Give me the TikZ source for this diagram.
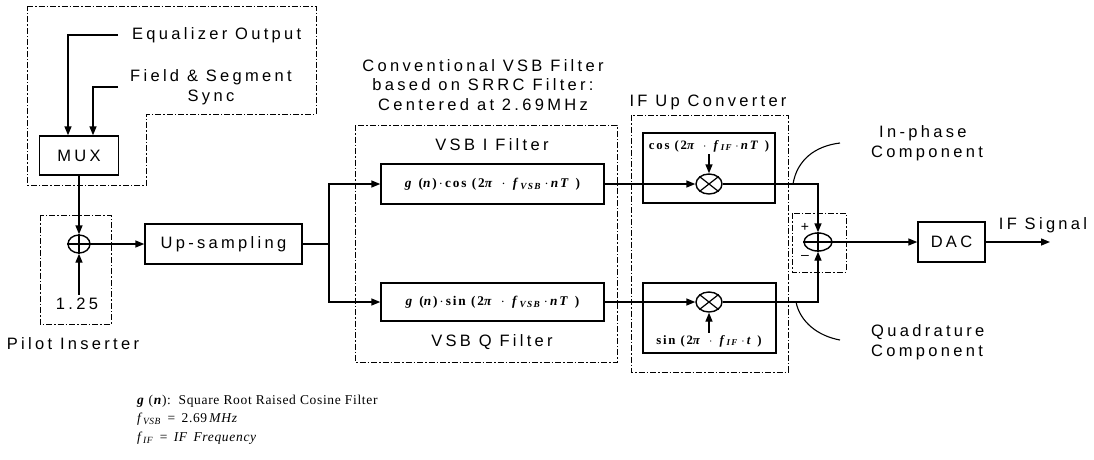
\documentclass[tikz,border=0pt]{standalone}
\usepackage{fontspec}
\setmainfont{Liberation Sans}[LetterSpace=20]
\newfontfamily\serf{Liberation Serif}[LetterSpace=5]
\newfontfamily\serfw{Liberation Serif}[LetterSpace=14]
\usetikzlibrary{arrows.meta,shapes.geometric}
\tikzset{
  blk/.style={draw,line width=1.4pt,inner sep=0pt},
  grp/.style={draw,line width=0.9pt,dash pattern=on 6pt off 2pt on 1.5pt off 2pt},
  ln/.style={line width=1.4pt},
  arr/.style={line width=1.4pt,-{Triangle[length=9pt,width=7pt]}},
  sum/.style={draw,ellipse,line width=1.4pt,inner sep=0pt},
  lab/.style={inner sep=0pt,font=\fontsize{16.5}{19.5}\selectfont},
  fml/.style={inner sep=0pt,font=\serfw\bfseries\fontsize{13.3}{15}\selectfont},
  fmls/.style={inner sep=0pt,font=\serfw\bfseries\fontsize{12.8}{14}\selectfont},
  leg/.style={inner sep=0pt,anchor=west,font=\serf\fontsize{13.5}{16}\selectfont}
}
\newcommand{\mi}[1]{\textit{#1}}
\begin{document}
\begin{tikzpicture}[x=1pt,y=-1pt]
\useasboundingbox (0,0) rectangle (1094,459);
\fill[white] (0,0) rectangle (1094,459);

% ---- MUX group
\draw[grp] (27,6) -- (316,6) -- (316,114) -- (146,114) -- (146,185) -- (27,185) -- cycle;
\node[lab,anchor=west] (eq) at (132,35) {Equalizer Output};
\node[lab,anchor=west,align=center] (fs) at (130,87) {Field \& Segment\\Sync};
\node[blk,lab,minimum width=79pt,minimum height=39pt] (mux) at (79,155.5) {MUX};
\draw[arr] ([xshift=-14pt]eq.west) -| ([xshift=-11pt]mux.north);
\draw[arr] ([xshift=-12pt]fs.west) -| ([xshift=14pt]mux.north);

% ---- Pilot inserter
\draw[grp] (40,215) rectangle (111,324);
\node[sum,minimum width=22pt,minimum height=18pt] (s1) at (79,244) {};
\draw[ln] (s1.north) -- (s1.south) (s1.west) -- (s1.east);
\node[lab] (n125) at (77,304) {1.25};
\node[lab] (pil) at (73,344) {Pilot Inserter};
\draw[arr] (mux.south) -- (s1.north);
\draw[arr] ([xshift=2pt,yshift=3pt]n125.north) -- (s1.south);

% ---- Up-sampling
\node[blk,lab,minimum width=157pt,minimum height=40pt] (up) at (223.5,244) {Up-sampling};
\draw[arr] (s1.east) -- (up.west);
\coordinate (sp) at (329,244);
\draw[ln] (up.east) -- (sp);

% ---- VSB filters
\draw[grp] (355,125) rectangle (617,362);
\node[lab,align=center] (vtitle) at (483,85) {Conventional VSB Filter\\based on SRRC Filter:\\Centered at 2.69MHz};
\node[lab] (vil) at (492,145) {VSB I Filter};
\node[lab] (vql) at (492,342) {VSB Q Filter};
\node[blk,fml,minimum width=223pt,minimum height=40pt] (vi) at (492.5,184)
  {\mi{g} (\mi{n})\,$\cdot$\,cos (2\textit{π}\, $\cdot$ \,\mi{f}\textsubscript{\mi{VSB}}\,$\cdot$\,\mi{nT} )};
\node[blk,fml,minimum width=223pt,minimum height=38pt] (vq) at (492.5,302)
  {\mi{g} (\mi{n})\,$\cdot$\,sin (2\textit{π}\, $\cdot$ \,\mi{f}\textsubscript{\mi{VSB}}\,$\cdot$\,\mi{nT} )};
\draw[arr] (sp) |- (vi.west);
\draw[arr] (sp) |- (vq.west);

% ---- IF up converter
\draw[grp] (631,115) rectangle (788,372);
\node[lab] (ift) at (708,102) {IF Up Converter};
\draw[blk] (643,133) rectangle (775,203);
\draw[blk] (643,283) rectangle (776,353);
\node[fmls] (cosT) at (709,146)
  {cos (2\textit{π}\, $\cdot$ \,\mi{f}\textsubscript{\mi{IF}}\,$\cdot$\,\mi{nT} )};
\node[fmls] (sinT) at (709,341)
  {sin (2\textit{π}\, $\cdot$ \,\mi{f}\textsubscript{\mi{IF}}\,$\cdot$\,\mi{t} )};
\node[sum,minimum width=26pt,minimum height=20pt] (m1) at (709,184) {};
\node[sum,minimum width=26pt,minimum height=20pt] (m2) at (709,302) {};
\foreach \m in {m1,m2}{
  \draw[line width=1.2pt] (\m.north east) -- (\m.south west) (\m.north west) -- (\m.south east);
}
\draw[arr] (vi.east) -- (m1.west);
\draw[arr] (vq.east) -- (m2.west);
\draw[arr] ([yshift=-2pt]cosT.south) -- (m1.north);
\draw[arr] ([yshift=2pt]sinT.north) -- (m2.south);

% ---- output summer
\draw[grp] (792,213) rectangle (846,272);
\node[sum,minimum width=28pt,minimum height=18pt] (s2) at (818,242) {};
\draw[ln] (s2.north) -- (s2.south) (s2.west) -- (s2.east);
\node[lab,font=\fontsize{14}{15}\selectfont] (pl) at (805,227) {+};
\node[lab,font=\fontsize{14}{15}\selectfont] (mn) at (805,257) {\textendash};
\draw[arr] (m1.east) -| (s2.north);
\draw[arr] (m2.east) -| (s2.south);

% ---- DAC
\node[blk,lab,minimum width=67pt,minimum height=40pt] (dac) at (951.5,242) {DAC};
\draw[arr] (s2.east) -- (dac.west);
\coordinate (out) at (1050,242);
\draw[arr] (dac.east) -- (out);
\node[lab] (ifs) at (1043,225) {IF Signal};

% ---- component labels
\node[lab,align=left,anchor=west] (inph) at (871,143) {\hspace{8pt}In-phase\\Component};
\node[lab,align=left,anchor=west] (quad) at (871,342) {Quadrature\\Component};
\coordinate (cI) at (793,184);
\coordinate (cIe) at (840,143);
\coordinate (cQ) at (796,302);
\coordinate (cQe) at (840,340);
\draw[line width=1.1pt] (cI) .. controls (797,160) and (815,146) .. (cIe);
\draw[line width=1.1pt] (cQ) .. controls (800,322) and (818,336) .. (cQe);

% ---- legend
\node[leg] (l1) at (137,401) {\textbf{\mi{g}} (\textbf{\mi{n}}):\, Square Root Raised Cosine Filter};
\node[leg] (l2) at (137,419) {\mi{f}\textsubscript{\mi{VSB}} \,=\, 2.69\,\mi{MHz}};
\node[leg] (l3) at (137,438) {\mi{f}\textsubscript{\mi{IF}} \,=\, \mi{IF\, Frequency}};
\end{tikzpicture}
\end{document}
